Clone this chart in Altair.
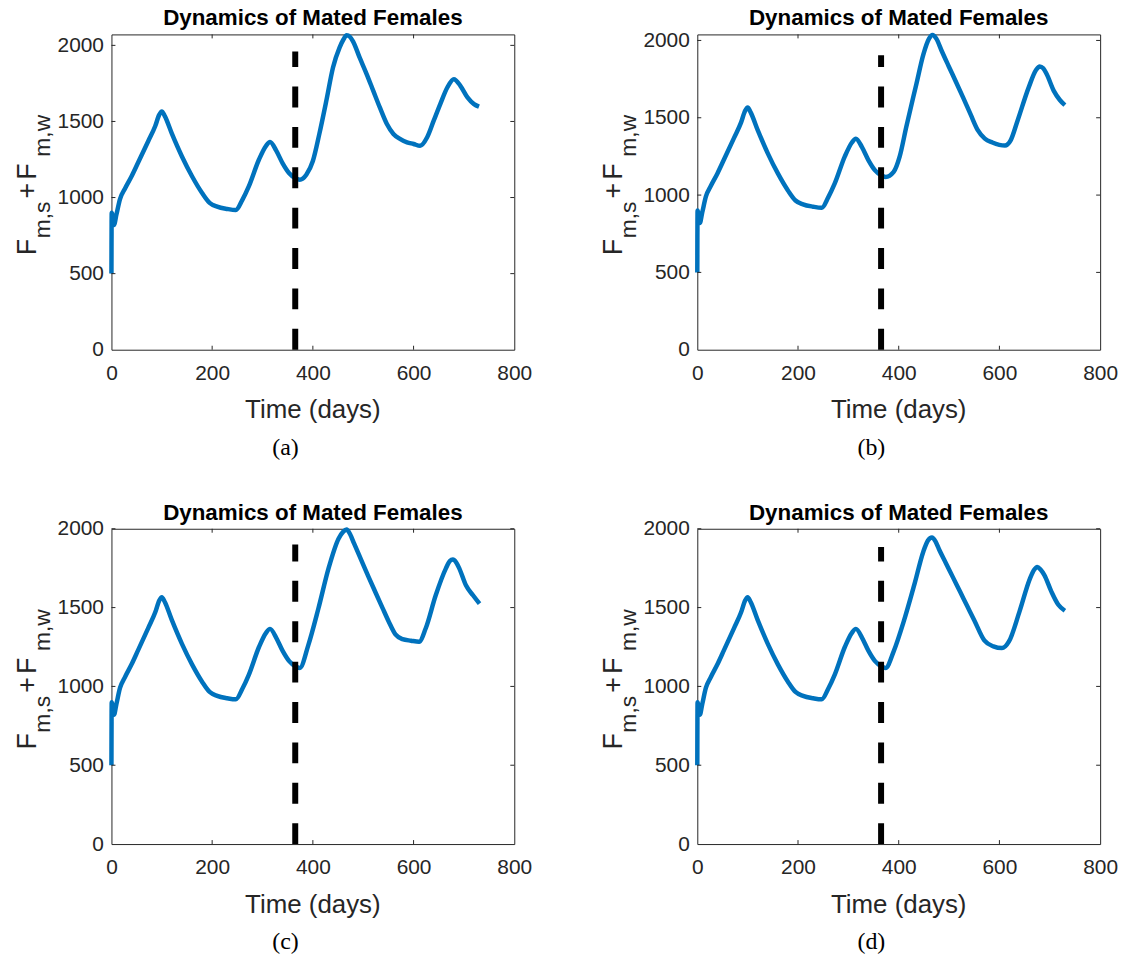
import altair as alt
import pandas as pd

# ---------------- data ----------------
x_ticks = [0, 200, 400, 600, 800]
y_ticks = [0, 500, 1000, 1500, 2000]
intervention_day = 365

# first year (identical in all four scenarios)
year1_days = [0, 0.5, 5, 10, 17, 27, 40, 53, 73, 87, 95, 100, 106, 120, 140, 160,
              180, 195, 210, 230, 247, 260, 273, 293, 307, 315, 327, 340, 353, 365,
              374]
year1_vals = [500, 900, 820, 890, 990, 1060, 1140, 1230, 1370, 1470, 1545, 1566,
              1535, 1420, 1270, 1140, 1030, 965, 940, 925, 918, 985, 1075, 1250,
              1340, 1365, 1310, 1225, 1160, 1128, 1117]

# second year, scenario (a)
days_a = [387, 400, 413, 427, 440, 453, 461, 467, 474, 480, 493, 507, 520, 533,
          547, 560, 573, 587, 600, 613, 627, 640, 653, 667, 680, 693, 707, 720, 730]
vals_a = [1150, 1240, 1420, 1640, 1855, 1985, 2040, 2066, 2055, 2025, 1919, 1810,
          1701, 1592, 1483, 1418, 1385, 1363, 1352, 1340, 1396, 1505, 1614, 1723,
          1778, 1734, 1658, 1614, 1597]
# scenario (b)
days_b = [390, 402, 415, 435, 449, 460, 467, 475, 485, 499, 514, 528, 543, 557,
          571, 586, 611, 622, 636, 658, 673, 680, 687, 694, 708, 720, 730]
vals_b = [1150, 1250, 1440, 1717, 1910, 2010, 2035, 2010, 1935, 1835, 1730, 1630,
          1520, 1420, 1365, 1340, 1320, 1352, 1481, 1695, 1810, 1832, 1820, 1781,
          1674, 1615, 1582]
# scenario (c)
days_c = [391, 411, 431, 451, 460, 467, 474, 482, 497, 511, 524, 538, 551, 564,
          578, 595, 611, 624, 644, 664, 672, 678, 685, 691, 704, 718, 731]
vals_c = [1262, 1494, 1747, 1937, 1980, 1995, 1965, 1905, 1795, 1692, 1599, 1500,
          1409, 1330, 1300, 1290, 1283, 1367, 1578, 1747, 1795, 1805, 1785, 1747,
          1641, 1578, 1525]
# scenario (d)
days_d = [390, 410, 431, 449, 458, 466, 473, 480, 494, 508, 522, 536, 550, 570,
          588, 605, 619, 640, 661, 669, 675, 682, 689, 703, 717, 730]
vals_d = [1222, 1412, 1645, 1856, 1925, 1945, 1920, 1870, 1780, 1690, 1600, 1510,
          1420, 1292, 1254, 1243, 1285, 1476, 1687, 1740, 1758, 1740, 1708, 1603,
          1518, 1480]

panel_ymax = {"a": 2072, "b": 2039, "c": 2000, "d": 2000}
dash_top = {"a": 1960, "b": 1905, "c": 1900, "d": 1885}
captions = {"a": "(a)", "b": "(b)", "c": "(c)", "d": "(d)"}
title_text = "Dynamics of Mated Females"
x_title = "Time (days)"

# ---------------- style ----------------
W, H = 405, 317
SANS = "Liberation Sans"
SERIF = "Liberation Serif"
AX = "#262626"
BLUE = "#0072BD"


def text_layer(txt, x, y, size, angle=0, align="center", weight="normal",
               font=SANS, color=AX):
    return alt.Chart(pd.DataFrame({"t": [txt]})).mark_text(
        font=font, fontSize=size, fontWeight=weight, angle=angle, align=align,
        baseline="alphabetic", color=color
    ).encode(text="t:N", x=alt.value(x), y=alt.value(y))


def panel(key, days2, vals2):
    days = year1_days + days2
    vals = year1_vals + vals2
    df = pd.DataFrame({"day": days, "val": vals})
    xs = alt.Scale(domain=[0, 800], nice=False)
    ys = alt.Scale(domain=[0, panel_ymax[key]], nice=False)
    ax_x = alt.Axis(values=x_ticks, title=None, labelPadding=13, format="d",
                    labelFlush=False)
    ax_y = alt.Axis(values=y_ticks, title=None, labelPadding=8, format="d",
                    labelFlush=False)

    line = alt.Chart(df).mark_line(
        color=BLUE, strokeWidth=4.5, interpolate="monotone"
    ).encode(
        x=alt.X("day:Q", scale=xs, axis=ax_x),
        y=alt.Y("val:Q", scale=ys, axis=ax_y),
    )

    dash_df = pd.DataFrame({"day": [intervention_day], "val": [0],
                            "top": [dash_top[key]]})
    dash = alt.Chart(dash_df).mark_rule(
        color="black", strokeWidth=6, strokeDash=[21, 19.6]
    ).encode(x=alt.X("day:Q", axis=ax_x), y=alt.Y("val:Q", axis=ax_y), y2="top:Q")

    xt = pd.DataFrame({"day": x_ticks[1:-1]})
    yt = pd.DataFrame({"val": y_ticks[1:]})
    tick_style = dict(color=AX, strokeWidth=1)
    xt_bot = alt.Chart(xt).mark_rule(**tick_style).encode(
        x=alt.X("day:Q", axis=ax_x), y=alt.value(H), y2=alt.value(H - 4))
    xt_top = alt.Chart(xt).mark_rule(**tick_style).encode(
        x=alt.X("day:Q", axis=ax_x), y=alt.value(0), y2=alt.value(4))
    yt_left = alt.Chart(yt).mark_rule(**tick_style).encode(
        y=alt.Y("val:Q", axis=ax_y), x=alt.value(0), x2=alt.value(4))
    yt_right = alt.Chart(yt).mark_rule(**tick_style).encode(
        y=alt.Y("val:Q", axis=ax_y), x=alt.value(W), x2=alt.value(W - 4))

    texts = [
        text_layer(title_text, W / 2, -9, 22.5, weight="bold", color="black"),
        text_layer(x_title, W / 2, 386, 26),
        text_layer("F", -76, 222, 27, angle=270, align="left"),
        text_layer("m,s", -62, 205, 23, angle=270, align="left"),
        text_layer("+", -76, 165, 27, angle=270, align="left"),
        text_layer("F", -76, 146, 27, angle=270, align="left"),
        text_layer("m,w", -62, 123, 23, angle=270, align="left"),
        text_layer(captions[key], 175, 423, 24, font=SERIF, color="black"),
    ]

    return alt.layer(
        line, xt_bot, xt_top, yt_left, yt_right, dash, *texts
    ).properties(width=W, height=H)


chart = alt.concat(
    panel("a", days_a, vals_a),
    panel("b", days_b, vals_b),
    panel("c", days_c, vals_c),
    panel("d", days_d, vals_d),
    columns=2,
    spacing={"row": 180, "column": 184},
    bounds="flush",
).configure(
    padding={"left": 5, "top": -4, "right": 5, "bottom": 0},
    background="white",
).configure_view(
    stroke=AX, strokeWidth=1
).configure_axis(
    domain=False, ticks=False, tickSize=0, grid=False,
    labelFont=SANS, labelFontSize=21, labelColor=AX,
)

chart.save("out.html", embed_options={"renderer": "svg", "actions": False})
